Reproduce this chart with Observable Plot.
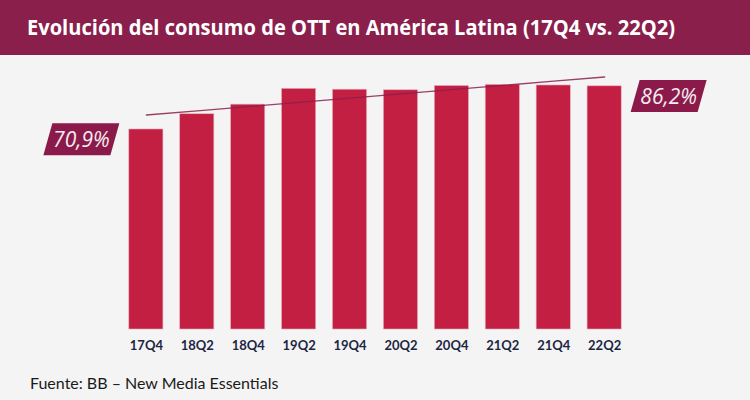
<!DOCTYPE html>
<html>
<head>
<meta charset="utf-8">
<script src="https://cdn.jsdelivr.net/npm/d3@7"></script>
<script src="https://cdn.jsdelivr.net/npm/@observablehq/plot@0.6"></script>
<style>
  html, body { margin: 0; padding: 0; background: #f4f4f4; }
  #wrap { position: relative; width: 750px; height: 400px; overflow: hidden; background: #f4f4f4; }
  #banner { position: relative; height: 55px; background: #8a1f4c; }
  #title { position: absolute; left: 27px; top: 14px; color: #fff; font-family: "Open Sans", sans-serif; font-weight: bold; font-size: 21px; line-height: 26px; white-space: nowrap; transform-origin: 0 0; }
  #footer { position: absolute; left: 30px; top: 373px; font-family: Lato, "Open Sans", sans-serif; font-size: 16px; color: #1a1a1a; }
  svg { display: block; }
</style>
</head>
<body>
<div id="wrap">
  <div id="banner"><span id="title">Evolución del consumo de OTT en América Latina (17Q4 vs. 22Q2)</span></div>
  <div id="chart"></div>
  <div id="footer">Fuente: BB – New Media Essentials</div>
</div>
<script>
const periods = ["17Q4", "18Q2", "18Q4", "19Q2", "19Q4", "20Q2", "20Q4", "21Q2", "21Q4", "22Q2"];
const values = [70.9, 76.3, 79.7, 85.3, 85.0, 84.8, 86.3, 86.7, 86.5, 86.2];

const data = periods.map((p, i) => ({period: p, value: values[i], i}));

// least-squares trend line over the series
const n = values.length;
const mx = d3.mean(data, d => d.i), my = d3.mean(values);
const slope = d3.sum(data, d => (d.i - mx) * (d.value - my)) / d3.sum(data, d => (d.i - mx) ** 2);
const trend = data.map(d => ({period: d.period, t: my + slope * (d.i - mx)}));

const fmt = v => v.toFixed(1).replace(".", ",") + "%";
const labelStyle = {x: "period", y: "value", text: d => fmt(d.value), fill: "#f3ecf0",
  fontSize: 21, fontStyle: "italic", fontFamily: "'Open Sans', sans-serif", dy: 11};

const chart = Plot.plot({
  width: 750,
  height: 305,
  marginLeft: 112,
  marginRight: 112,
  marginTop: 6,
  marginBottom: 31,
  style: {background: "#f4f4f4", overflow: "visible"},
  x: {domain: periods, padding: 0.33, round: false, label: null, tickSize: 0, tickPadding: 11},
  y: {domain: [0, 95], axis: null},
  marks: [
    Plot.barY(data, {x: "period", y: "value", fill: "#c21f42", stroke: "#e9a9b8", strokeWidth: 0.6}),
    Plot.line(trend, {x: "period", y: "t", stroke: "#8a1f4c", strokeWidth: 1.3, strokeOpacity: 0.85}),
    Plot.text([data[0]], {...labelStyle, dx: -65}),
    Plot.text([data[n - 1]], {...labelStyle, dx: 64})
  ]
});

d3.select(chart).selectAll("g[aria-label='x-axis tick label'] text, g[aria-label='x-axis'] text")
  .attr("font-family", "Lato, 'Open Sans', sans-serif").attr("font-weight", "bold").attr("font-size", 13).attr("fill", "#1c2541");

document.getElementById("chart").appendChild(chart);

// parallelogram backgrounds behind the end labels
Array.from(chart.querySelectorAll("text")).filter(t => t.textContent.includes("%")).forEach(t => {
  const b = t.getBBox();
  const parent = t.parentNode;
  const m = parent.getCTM().inverse().multiply(t.getCTM());
  const pt = chart.createSVGPoint();
  const corner = (x, y) => { pt.x = x; pt.y = y; const p = pt.matrixTransform(m); return [p.x, p.y]; };
  const cx = b.x + b.width / 2, cy = b.y + b.height / 2;
  const w = 76, h = 32, sk = 9;
  const pts = [
    corner(cx - w / 2 + sk, cy - h / 2), corner(cx + w / 2, cy - h / 2),
    corner(cx + w / 2 - sk, cy + h / 2), corner(cx - w / 2, cy + h / 2)
  ];
  const poly = document.createElementNS("http://www.w3.org/2000/svg", "polygon");
  poly.setAttribute("points", pts.map(p => p.join(",")).join(" "));
  poly.setAttribute("fill", "#8b1a4b");
  parent.insertBefore(poly, t);
});

// fit the title to the reference's width
const title = document.getElementById("title");
const tw = title.getBoundingClientRect().width;
title.style.transform = `scaleX(${648 / tw})`;
</script>
</body>
</html>
